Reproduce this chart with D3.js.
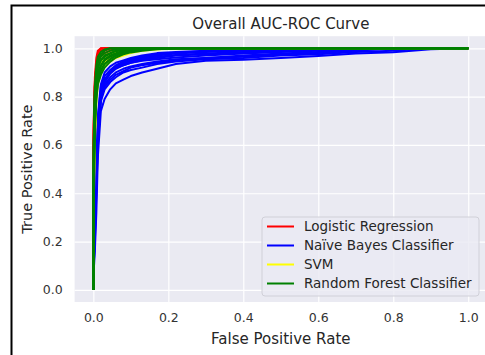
<!DOCTYPE html>
<html>
<head>
<meta charset="utf-8">
<script src="https://cdn.jsdelivr.net/npm/d3@7"></script>
<style>
  body { margin: 0; background: #fff; }
  text { font-family: "DejaVu Sans", sans-serif; fill: #262626; }
</style>
</head>
<body>
<div id="chart"></div>
<script>
// false positive rate grid shared by every curve
const fprGrid = [0, 0.001, 0.004, 0.008, 0.012, 0.02, 0.03, 0.045, 0.06, 0.08, 0.1, 0.13, 0.17, 0.22, 0.3, 0.4, 0.5, 0.6, 0.7, 0.8, 0.9, 1.0];

// true positive rates, one row per fold
const lrTpr = [
  [0, .70, .88, .96, .99, 1, 1, 1, 1, 1, 1, 1, 1, 1, 1, 1, 1, 1, 1, 1, 1, 1],
  [0, .65, .84, .93, .97, .99, 1, 1, 1, 1, 1, 1, 1, 1, 1, 1, 1, 1, 1, 1, 1, 1],
  [0, .60, .80, .90, .94, .97, .99, 1, 1, 1, 1, 1, 1, 1, 1, 1, 1, 1, 1, 1, 1, 1],
  [0, .62, .82, .90, .93, .95, .97, .98, .99, 1, 1, 1, 1, 1, 1, 1, 1, 1, 1, 1, 1, 1],
  [0, .58, .78, .87, .91, .94, .96, .975, .985, .99, .995, 1, 1, 1, 1, 1, 1, 1, 1, 1, 1, 1],
  [0, .66, .85, .92, .95, .97, .98, .99, 1, 1, 1, 1, 1, 1, 1, 1, 1, 1, 1, 1, 1, 1],
  [0, .55, .76, .86, .90, .93, .95, .965, .975, .985, .99, .995, 1, 1, 1, 1, 1, 1, 1, 1, 1, 1],
  [0, .68, .86, .94, .98, 1, 1, 1, 1, 1, 1, 1, 1, 1, 1, 1, 1, 1, 1, 1, 1, 1]
];

const nbTpr = [
  [0, .08, .16, .32, .55, .74, .79, .83, .855, .87, .885, .90, .915, .935, .948, .953, .96, .968, .978, .984, .996, 1],
  [0, .10, .20, .40, .60, .78, .83, .86, .88, .90, .91, .92, .935, .945, .955, .96, .97, .975, .985, .99, 1, 1],
  [0, .12, .25, .45, .65, .80, .85, .88, .90, .915, .925, .935, .945, .955, .96, .965, .975, .98, .99, 1, 1, 1],
  [0, .10, .22, .42, .62, .79, .84, .87, .89, .905, .92, .93, .94, .95, .96, .97, .978, .985, .992, 1, 1, 1],
  [0, .15, .30, .50, .68, .82, .87, .90, .92, .935, .945, .955, .965, .972, .978, .985, .99, .995, 1, 1, 1, 1],
  [0, .14, .28, .48, .66, .81, .86, .895, .915, .93, .94, .95, .96, .97, .975, .98, .988, .994, 1, 1, 1, 1],
  [0, .16, .32, .52, .70, .84, .885, .91, .93, .945, .955, .965, .975, .982, .988, .992, .996, 1, 1, 1, 1, 1],
  [0, .12, .26, .46, .64, .80, .86, .90, .925, .94, .95, .96, .97, .978, .985, .99, .995, 1, 1, 1, 1, 1],
  [0, .18, .35, .55, .72, .85, .90, .925, .94, .95, .96, .97, .98, .985, .99, .995, 1, 1, 1, 1, 1, 1],
  [0, .13, .27, .47, .66, .82, .87, .90, .918, .93, .94, .948, .955, .962, .97, .978, .985, .99, .995, 1, 1, 1]
];

const svmTpr = [
  [0, .35, .60, .78, .85, .90, .925, .945, .96, .97, .98, .99, .995, 1, 1, 1, 1, 1, 1, 1, 1, 1],
  [0, .40, .65, .80, .87, .91, .94, .955, .97, .98, .99, .995, 1, 1, 1, 1, 1, 1, 1, 1, 1, 1],
  [0, .45, .70, .84, .90, .94, .96, .975, .985, .99, .995, 1, 1, 1, 1, 1, 1, 1, 1, 1, 1, 1],
  [0, .42, .66, .82, .88, .925, .95, .965, .978, .987, .993, .997, 1, 1, 1, 1, 1, 1, 1, 1, 1, 1],
  [0, .50, .74, .87, .92, .95, .97, .98, .99, .995, 1, 1, 1, 1, 1, 1, 1, 1, 1, 1, 1, 1]
];

const rfTpr = [
  [0, .55, .78, .88, .92, .95, .97, .98, .99, .995, 1, 1, 1, 1, 1, 1, 1, 1, 1, 1, 1, 1],
  [0, .50, .74, .85, .90, .93, .955, .97, .98, .99, .995, 1, 1, 1, 1, 1, 1, 1, 1, 1, 1, 1],
  [0, .45, .70, .82, .87, .91, .935, .955, .97, .98, .988, .995, 1, 1, 1, 1, 1, 1, 1, 1, 1, 1],
  [0, .60, .82, .91, .95, .975, .99, 1, 1, 1, 1, 1, 1, 1, 1, 1, 1, 1, 1, 1, 1, 1],
  [0, .40, .66, .79, .85, .89, .92, .945, .962, .975, .983, .99, .996, 1, 1, 1, 1, 1, 1, 1, 1, 1],
  [0, .52, .76, .87, .92, .95, .965, .978, .988, .994, .998, 1, 1, 1, 1, 1, 1, 1, 1, 1, 1, 1],
  [0, .62, .84, .93, .965, .985, .995, 1, 1, 1, 1, 1, 1, 1, 1, 1, 1, 1, 1, 1, 1, 1],
  [0, .48, .72, .84, .89, .925, .95, .965, .977, .986, .992, .997, 1, 1, 1, 1, 1, 1, 1, 1, 1, 1],
  [0, .58, .80, .90, .94, .965, .98, .99, .996, 1, 1, 1, 1, 1, 1, 1, 1, 1, 1, 1, 1, 1],
  [0, .42, .68, .80, .86, .905, .935, .955, .97, .98, .99, .995, .998, 1, 1, 1, 1, 1, 1, 1, 1, 1]
];

const models = ['Logistic Regression', 'Naïve Bayes Classifier', 'SVM', 'Random Forest Classifier'];
const modelColors = ['red', 'blue', 'yellow', 'green'];
const modelCurves = [lrTpr, nbTpr, svmTpr, rfTpr];
const ticks = [0, 0.2, 0.4, 0.6, 0.8, 1.0];

// Define dimensions and margins for the chart
const W = 485, H = 355;
const margin = { top: 36.2, right: -2, bottom: 53, left: 74.6 };
const width = W - margin.left - margin.right;
const height = H - margin.top - margin.bottom;

const svg = d3.select('#chart').append('svg')
  .attr('width', W)
  .attr('height', H);

// frame around the figure
svg.append('rect')
  .attr('x', 11.5).attr('y', 5.5)
  .attr('width', 520).attr('height', 400)
  .attr('fill', 'none')
  .attr('stroke', '#000')
  .attr('stroke-width', 2);

const g = svg.append('g')
  .attr('transform', `translate(${margin.left},${margin.top})`);

const x = d3.scaleLinear().domain([-0.05, 1.05]).range([0, width]);
const y = d3.scaleLinear().domain([-0.05, 1.05]).range([height, 0]);

// darkgrid background
g.append('rect')
  .attr('width', width)
  .attr('height', height)
  .attr('fill', '#eaeaf2');

// grid lines
g.append('g')
  .call(d3.axisBottom(x).tickValues(ticks).tickSize(height).tickFormat(''))
  .call(a => a.select('.domain').remove())
  .call(a => a.selectAll('line').attr('stroke', '#fff').attr('stroke-width', 1.2));
g.append('g')
  .call(d3.axisLeft(y).tickValues(ticks).tickSize(-width).tickFormat(''))
  .call(a => a.select('.domain').remove())
  .call(a => a.selectAll('line').attr('stroke', '#fff').attr('stroke-width', 1.2));

// tick labels
const xAxis = g.append('g')
  .attr('transform', `translate(0,${height})`)
  .call(d3.axisBottom(x).tickValues(ticks).tickSize(0).tickPadding(11).tickFormat(d3.format('.1f')));
xAxis.select('.domain').remove();
xAxis.selectAll('text').style('font-size', '12.5px').style('fill', '#333');

const yAxis = g.append('g')
  .call(d3.axisLeft(y).tickValues(ticks).tickSize(0).tickPadding(12).tickFormat(d3.format('.1f')));
yAxis.select('.domain').remove();
yAxis.selectAll('text').style('font-size', '12.5px').style('fill', '#333');

// curves
const line = d3.line()
  .x((d, i) => x(fprGrid[i]))
  .y(d => y(d));

modelCurves.forEach((curves, m) => {
  g.append('g')
    .selectAll('path')
    .data(curves)
    .enter().append('path')
    .attr('d', line)
    .attr('fill', 'none')
    .attr('stroke', modelColors[m])
    .attr('stroke-width', 2)
    .attr('stroke-linejoin', 'round');
});

// title and axis labels
svg.append('text')
  .attr('x', margin.left + width / 2)
  .attr('y', 28.5)
  .attr('text-anchor', 'middle')
  .style('font-size', '15px')
  .text('Overall AUC-ROC Curve');

svg.append('text')
  .attr('x', margin.left + width / 2)
  .attr('y', 343.5)
  .attr('text-anchor', 'middle')
  .style('font-size', '15px')
  .text('False Positive Rate');

svg.append('text')
  .attr('transform', `translate(31.5,${margin.top + height / 2}) rotate(-90)`)
  .attr('text-anchor', 'middle')
  .style('font-size', '14.5px')
  .text('True Positive Rate');

// legend
const legend = svg.append('g').attr('transform', 'translate(262,217)');
legend.append('rect')
  .attr('width', 217)
  .attr('height', 79)
  .attr('rx', 3)
  .attr('fill', '#eaeaf2')
  .attr('fill-opacity', 0.8)
  .attr('stroke', '#d0d0d8');

models.forEach((name, i) => {
  const row = legend.append('g').attr('transform', `translate(0,${9.5 + i * 19})`);
  row.append('line')
    .attr('x1', 5).attr('x2', 32)
    .attr('stroke', modelColors[i])
    .attr('stroke-width', 2);
  row.append('text')
    .attr('x', 42)
    .attr('dy', '0.35em')
    .style('font-size', '13.5px')
    .text(name);
});
</script>
</body>
</html>
